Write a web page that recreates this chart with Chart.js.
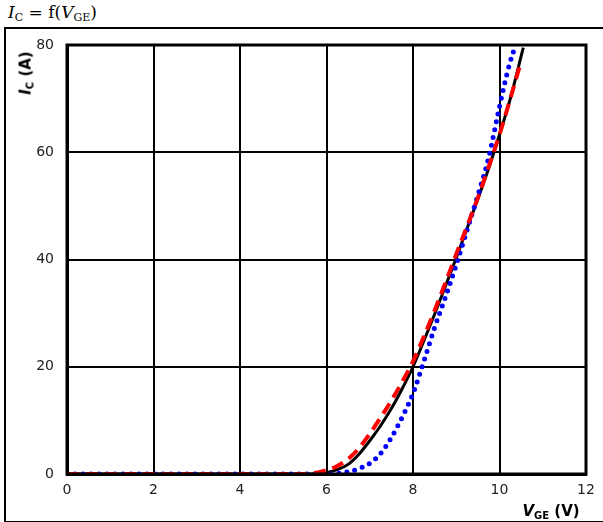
<!DOCTYPE html>
<html>
<head>
<meta charset="utf-8">
<script src="https://cdn.jsdelivr.net/npm/chart.js@4/dist/chart.umd.min.js"></script>
<style>
  html, body { margin: 0; padding: 0; background: #fff; }
  body { width: 603px; height: 522px; position: relative; overflow: hidden; font-family: "DejaVu Sans", sans-serif; }
  #title { position: absolute; left: 8px; top: 2px; font-family: "DejaVu Serif", serif; font-size: 17px; color: #000; }
  #title sub { font-size: 11px; vertical-align: -3px; }
  #frame { position: absolute; left: 4px; top: 27px; width: 620px; height: 492px; border: 2px solid #000; border-right: none; }
  #chart { position: absolute; left: 0; top: 0; }
  .axis-label { position: absolute; font-weight: bold; font-size: 15px; color: #000; white-space: nowrap; }
  .axis-label sub { font-size: 10px; vertical-align: -3px; }
  #ylabel { left: 26px; top: 73px; transform: translate(-50%, -50%) rotate(-90deg); }
  #xlabel { left: 551px; top: 511px; transform: translate(-50%, -50%); }
</style>
</head>
<body>
<div id="title"><i>I</i><sub>C</sub> = f(<i>V</i><sub>GE</sub>)</div>
<div id="frame"></div>
<canvas id="chart" width="603" height="522"></canvas>
<div id="ylabel" class="axis-label"><i>I</i><sub>C</sub> (A)</div>
<div id="xlabel" class="axis-label"><i>V</i><sub>GE</sub> (V)</div>
<script>
// Transfer characteristic
var vgeBlack = [0, 2, 4, 5.5, 5.8, 6, 6.25, 6.5, 6.75, 7, 7.25, 7.5, 7.75, 8, 8.25, 8.5, 8.75, 9, 9.25, 9.5, 9.75, 10, 10.25, 10.55];
var icBlack  = [0, 0, 0, 0, 0.05, 0.3, 0.8, 1.8, 3.7, 6.2, 9.0, 12.2, 15.9, 20, 24.8, 29.8, 35, 40.3, 45.8, 51.3, 57, 63.3, 70, 79.5];

var vgeRed = [0, 2, 4, 5.4, 5.6, 5.8, 6, 6.25, 6.5, 6.75, 7, 7.25, 7.5, 7.75, 8, 8.25, 8.5, 8.75, 9, 9.25, 9.5, 9.75, 10, 10.25, 10.5];
var icRed  = [0, 0, 0, 0, 0.1, 0.3, 0.7, 1.5, 2.8, 4.8, 7.5, 10.5, 13.7, 17.2, 21, 25.6, 30.5, 35.7, 41, 46.2, 51.5, 57.3, 63.3, 70, 77];

var vgeBlue = [0, 2, 4, 5.8, 6, 6.25, 6.5, 6.75, 7, 7.25, 7.5, 7.75, 8, 8.25, 8.5, 8.75, 9, 9.25, 9.5, 9.75, 10, 10.2, 10.37];
var icBlue  = [0, 0, 0, 0, 0, 0.1, 0.4, 1.0, 2.0, 3.8, 6.8, 10.6, 15, 21, 27.3, 33, 39, 45.5, 52, 59, 68.5, 75.5, 80];

var xTicks = [0, 2, 4, 6, 8, 10, 12];
var yTicks = [0, 20, 40, 60, 80];

function toPoints(xs, ys) {
    return xs.map(function(x, i) { return { x: x, y: ys[i] }; });
}

// plot rectangle in page pixels
var area = { left: 67, right: 586, top: 45, bottom: 474 };

var framePlugin = {
    id: 'plotFrame',
    afterDatasetsDraw: function(chart) {
        var a = chart.chartArea;
        var ctx = chart.ctx;
        ctx.save();
        ctx.strokeStyle = '#000';
        ctx.lineWidth = 3;
        ctx.strokeRect(a.left, a.top, a.right - a.left, a.bottom - a.top);
        ctx.restore();
    }
};

new Chart(document.getElementById('chart').getContext('2d'), {
    type: 'line',
    data: {
        datasets: [{
            label: 'red',
            data: toPoints(vgeRed, icRed),
            borderColor: '#ff0000',
            borderWidth: 4,
            borderDash: [12, 7],
            order: 0
        }, {
            label: 'blue',
            data: toPoints(vgeBlue, icBlue),
            borderColor: '#0000ff',
            borderWidth: 5,
            borderDash: [0, 8],
            borderCapStyle: 'round',
            order: 1
        }, {
            label: 'black',
            data: toPoints(vgeBlack, icBlack),
            borderColor: '#000000',
            borderWidth: 3,
            order: 2
        }]
    },
    options: {
        responsive: false,
        animation: false,
        events: [],
        elements: {
            point: { radius: 0 },
            line: { cubicInterpolationMode: 'monotone', fill: false }
        },
        layout: {
            padding: { left: 0, top: area.top, right: 603 - area.right, bottom: 0 }
        },
        plugins: {
            legend: { display: false },
            tooltip: { enabled: false }
        },
        scales: {
            x: {
                type: 'linear',
                min: xTicks[0],
                max: xTicks[xTicks.length - 1],
                afterBuildTicks: function(scale) {
                    scale.ticks = xTicks.map(function(v) { return { value: v }; });
                },
                afterFit: function(scale) { scale.height = 522 - area.bottom; },
                grid: { color: '#000', lineWidth: 2, drawTicks: false },
                border: { color: '#000', width: 3 },
                ticks: { color: '#222', font: { family: 'DejaVu Sans', size: 14 }, padding: 8 }
            },
            y: {
                type: 'linear',
                min: yTicks[0],
                max: yTicks[yTicks.length - 1],
                afterBuildTicks: function(scale) {
                    scale.ticks = yTicks.map(function(v) { return { value: v }; });
                },
                afterFit: function(scale) { scale.width = area.left; },
                grid: { color: '#000', lineWidth: 2, drawTicks: false },
                border: { color: '#000', width: 3 },
                ticks: { color: '#222', font: { family: 'DejaVu Sans', size: 14 }, padding: 13 }
            }
        }
    },
    plugins: [framePlugin]
});
</script>
</body>
</html>
